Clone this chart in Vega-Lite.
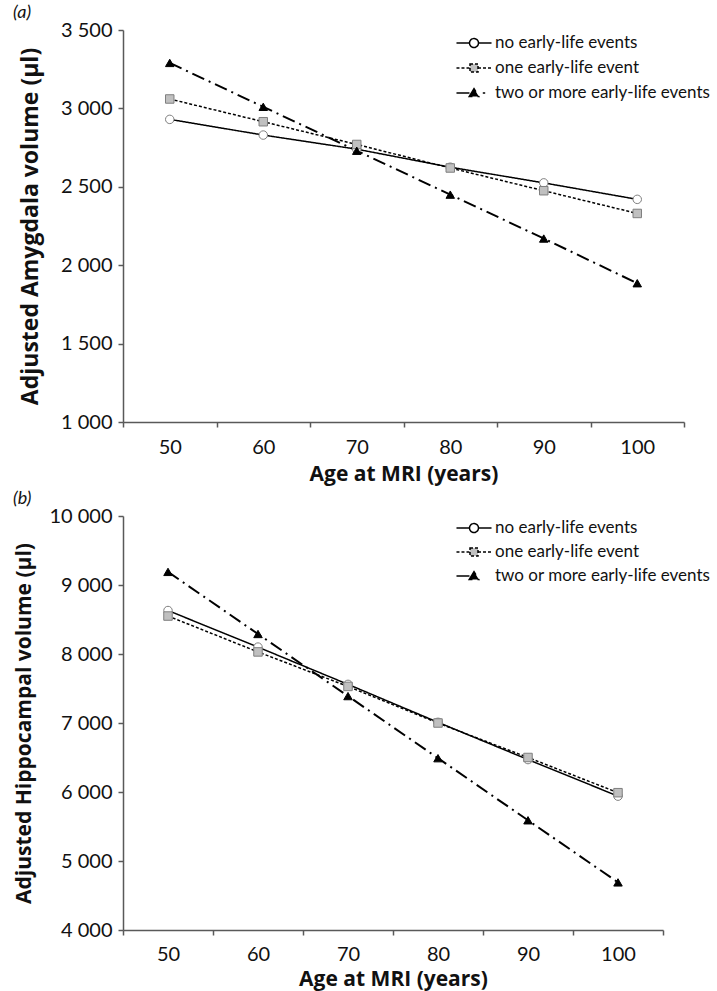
{
  "$schema": "https://vega.github.io/schema/vega-lite/v6.json",
  "padding": {"left": 13, "top": 4, "right": 5, "bottom": 2},
  "background": "white",
  "config": {
    "locale": {"number": {"decimal": ".", "thousands": " ", "grouping": [3], "currency": ["", ""]}},
    "view": {"stroke": null},
    "font": "Lato",
    "axis": {"domainColor": "#595959", "domainWidth": 1.5, "tickColor": "#595959", "tickWidth": 1.5, "tickSize": 5, "grid": false, "labelFont": "Lato", "labelFontSize": 20, "labelColor": "#111", "titleFont": "Open Sans", "titleFontWeight": "bold", "titleColor": "#111"},
    "legend": {"labelFont": "Lato", "labelFontSize": 17, "labelColor": "#111", "labelLimit": 400},
    "title": {"font": "Lato", "fontSize": 18, "fontStyle": "italic", "fontWeight": "normal", "anchor": "start", "frame": "group", "color": "#111", "offset": -2, "dx": -110}
  },
  "datasets": {
    "amyg": [
      {"age": 50, "group": "no early-life events", "volume": 2930},
      {"age": 60, "group": "no early-life events", "volume": 2830},
      {"age": 70, "group": "no early-life events", "volume": 2740},
      {"age": 80, "group": "no early-life events", "volume": 2625},
      {"age": 90, "group": "no early-life events", "volume": 2525},
      {"age": 100, "group": "no early-life events", "volume": 2420},
      {"age": 50, "group": "one early-life event", "volume": 3060},
      {"age": 60, "group": "one early-life event", "volume": 2915},
      {"age": 70, "group": "one early-life event", "volume": 2770},
      {"age": 80, "group": "one early-life event", "volume": 2620},
      {"age": 90, "group": "one early-life event", "volume": 2475},
      {"age": 100, "group": "one early-life event", "volume": 2330},
      {"age": 50, "group": "two or more early-life events", "volume": 3290},
      {"age": 60, "group": "two or more early-life events", "volume": 3010},
      {"age": 70, "group": "two or more early-life events", "volume": 2730},
      {"age": 80, "group": "two or more early-life events", "volume": 2450},
      {"age": 90, "group": "two or more early-life events", "volume": 2170},
      {"age": 100, "group": "two or more early-life events", "volume": 1885}
    ],
    "hippo": [
      {"age": 50, "group": "no early-life events", "volume": 8630},
      {"age": 60, "group": "no early-life events", "volume": 8100},
      {"age": 70, "group": "no early-life events", "volume": 7560},
      {"age": 80, "group": "no early-life events", "volume": 7010},
      {"age": 90, "group": "no early-life events", "volume": 6470},
      {"age": 100, "group": "no early-life events", "volume": 5940},
      {"age": 50, "group": "one early-life event", "volume": 8550},
      {"age": 60, "group": "one early-life event", "volume": 8030},
      {"age": 70, "group": "one early-life event", "volume": 7530},
      {"age": 80, "group": "one early-life event", "volume": 7000},
      {"age": 90, "group": "one early-life event", "volume": 6500},
      {"age": 100, "group": "one early-life event", "volume": 5990},
      {"age": 50, "group": "two or more early-life events", "volume": 9190},
      {"age": 60, "group": "two or more early-life events", "volume": 8290},
      {"age": 70, "group": "two or more early-life events", "volume": 7390},
      {"age": 80, "group": "two or more early-life events", "volume": 6490},
      {"age": 90, "group": "two or more early-life events", "volume": 5590},
      {"age": 100, "group": "two or more early-life events", "volume": 4690}
    ]
  },
  "spacing": 6,
  "resolve": {
    "scale": {"strokeDash": "independent"},
    "legend": {"strokeDash": "independent"}
  },
  "vconcat": [
    {
      "title": {"text": "(a)"},
      "width": 561,
      "height": 392,
      "data": {"name": "amyg"},
      "encoding": {
        "x": {"field": "age", "type": "ordinal", "bandPosition": 0.5, "scale": {"type": "band", "paddingInner": 0, "paddingOuter": 0}, "axis": {"title": "Age at MRI (years)", "labelAngle": 0, "tickBand": "extent", "labelPadding": 10, "titlePadding": 6, "titleFontSize": 21}},
        "y": {"field": "volume", "type": "quantitative", "scale": {"domain": [1000, 3500]}, "axis": {"title": "Adjusted Amygdala volume (μl)", "values": [1000, 1500, 2000, 2500, 3000, 3500], "format": ",d", "labelPadding": 6, "titlePadding": 18, "titleFontSize": 23}}
      },
      "layer": [
        {
          "mark": {"type": "line", "color": "black"},
          "encoding": {
            "strokeDash": {"field": "group", "type": "nominal", "scale": {"domain": ["no early-life events", "one early-life event", "two or more early-life events"], "range": [[1, 0], [3, 2], [13, 5, 2, 5]]},
              "legend": {"title": null, "orient": "none", "legendX": 342, "legendY": 4, "padding": 0, "symbolSize": 256, "rowPadding": 8, "labelOffset": 12, "labelLimit": 400, "symbolStrokeWidth": 1.5, "symbolStrokeColor": "black",
                "encode": {"symbols": {"update": {
                  "shape": {"signal": "datum.value === 'no early-life events' ? 'M-2.19,0H-0.56M-0.56,0A0.56,0.56 0 1,1 0.56,0A0.56,0.56 0 1,1 -0.56,0ZM0.56,0H2.19' : datum.value === 'one early-life event' ? 'M-2.19,0H-0.5M-0.5,-0.5H0.5V0.5H-0.5ZM0.5,0H2.19' : 'M-2.19,0H0M-0.6,0.45L0,-0.55L0.6,0.45ZM1.1,0H1.4'"},
                  "fill": {"signal": "datum.value === 'no early-life events' ? 'white' : datum.value === 'one early-life event' ? '#c0c0c0' : 'black'"},
                  "stroke": {"value": "black"},
                  "strokeWidth": {"value": 1.5}
                }}}}},
            "strokeWidth": {"condition": {"test": "datum.group === 'two or more early-life events'", "value": 2}, "value": 1.5}
          }
        },
        {
          "mark": {"type": "point", "filled": true, "opacity": 1, "strokeWidth": 1, "size": 72},
          "encoding": {
            "shape": {"condition": [{"test": "datum.group === 'one early-life event'", "value": "square"}, {"test": "datum.group === 'two or more early-life events'", "value": "triangle-up"}], "value": "circle"},
            "fill": {"condition": [{"test": "datum.group === 'one early-life event'", "value": "#c0c0c0"}, {"test": "datum.group === 'two or more early-life events'", "value": "black"}], "value": "white"},
            "stroke": {"condition": {"test": "datum.group === 'two or more early-life events'", "value": "black"}, "value": "#7f7f7f"}
          }
        }
      ]
    },
    {
      "title": {"text": "(b)"},
      "width": 540,
      "height": 414,
      "data": {"name": "hippo"},
      "encoding": {
        "x": {"field": "age", "type": "ordinal", "bandPosition": 0.5, "scale": {"type": "band", "paddingInner": 0, "paddingOuter": 0}, "axis": {"title": "Age at MRI (years)", "labelAngle": 0, "tickBand": "extent", "labelPadding": 9, "titlePadding": 4, "titleFontSize": 21}},
        "y": {"field": "volume", "type": "quantitative", "scale": {"domain": [4000, 10000]}, "axis": {"title": "Adjusted Hippocampal volume (μl)", "values": [4000, 5000, 6000, 7000, 8000, 9000, 10000], "format": ",d", "labelPadding": 6, "titlePadding": 14, "titleFontSize": 21}}
      },
      "layer": [
        {
          "mark": {"type": "line", "color": "black"},
          "encoding": {
            "strokeDash": {"field": "group", "type": "nominal", "scale": {"domain": ["no early-life events", "one early-life event", "two or more early-life events"], "range": [[1, 0], [3, 2], [13, 5, 2, 5]]},
              "legend": {"title": null, "orient": "none", "legendX": 342, "legendY": 3, "padding": 0, "symbolSize": 256, "rowPadding": 7, "labelOffset": 12, "labelLimit": 400, "symbolStrokeWidth": 1.5, "symbolStrokeColor": "black",
                "encode": {"symbols": {"update": {
                  "shape": {"signal": "datum.value === 'no early-life events' ? 'M-2.19,0H-0.56M-0.56,0A0.56,0.56 0 1,1 0.56,0A0.56,0.56 0 1,1 -0.56,0ZM0.56,0H2.19' : datum.value === 'one early-life event' ? 'M-2.19,0H-0.5M-0.5,-0.5H0.5V0.5H-0.5ZM0.5,0H2.19' : 'M-2.19,0H0M-0.6,0.45L0,-0.55L0.6,0.45Z'"},
                  "fill": {"signal": "datum.value === 'no early-life events' ? 'white' : datum.value === 'one early-life event' ? '#c0c0c0' : 'black'"},
                  "stroke": {"value": "black"},
                  "strokeWidth": {"value": 1.5}
                }}}}},
            "strokeWidth": {"condition": {"test": "datum.group === 'two or more early-life events'", "value": 2}, "value": 1.5}
          }
        },
        {
          "mark": {"type": "point", "filled": true, "opacity": 1, "strokeWidth": 1, "size": 72},
          "encoding": {
            "shape": {"condition": [{"test": "datum.group === 'one early-life event'", "value": "square"}, {"test": "datum.group === 'two or more early-life events'", "value": "triangle-up"}], "value": "circle"},
            "fill": {"condition": [{"test": "datum.group === 'one early-life event'", "value": "#c0c0c0"}, {"test": "datum.group === 'two or more early-life events'", "value": "black"}], "value": "white"},
            "stroke": {"condition": {"test": "datum.group === 'two or more early-life events'", "value": "black"}, "value": "#7f7f7f"}
          }
        }
      ]
    }
  ]
}
